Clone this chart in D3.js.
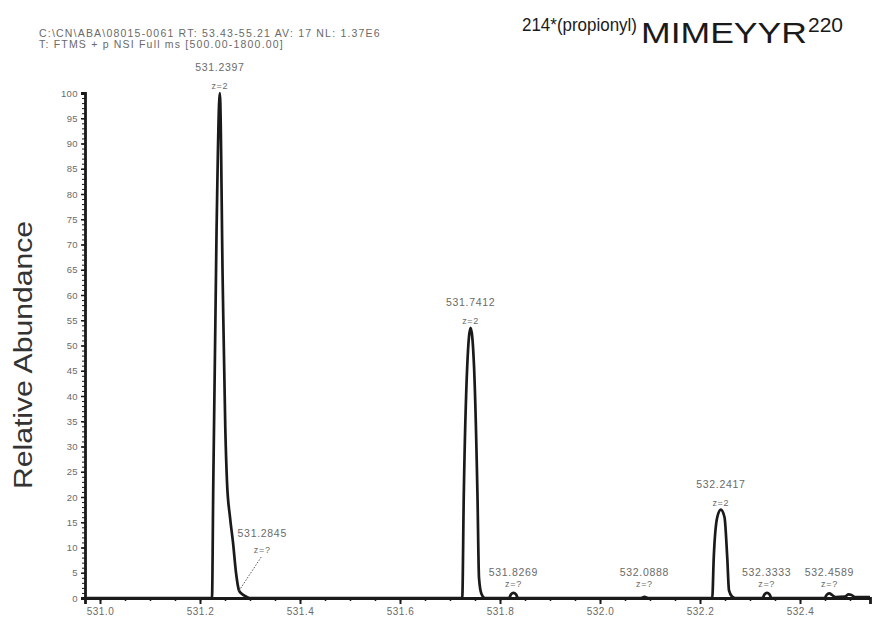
<!DOCTYPE html>
<html>
<head>
<meta charset="utf-8">
<script src="https://cdn.jsdelivr.net/npm/d3@7"></script>
<style>
  html, body { margin: 0; padding: 0; background: #fff; }
  svg { display: block; }
  text { font-family: "Liberation Sans", Arial, sans-serif; }
</style>
</head>
<body>
<svg id="chart" width="878" height="625"></svg>
<script>
// ---------- data ----------
const headerLines = [
  "C:\\CN\\ABA\\08015-0061   RT: 53.43-55.21   AV: 17   NL: 1.37E6",
  "T: FTMS + p NSI Full ms [500.00-1800.00]"
];
const titlePrefix = "214*(propionyl)";
const titleMain = "MIMEYYR";
const titleSup = "220";
const yAxisTitle = "Relative Abundance";

const xTicks = [531.0, 531.2, 531.4, 531.6, 531.8, 532.0, 532.2, 532.4];
const yTicks = [0, 5, 10, 15, 20, 25, 30, 35, 40, 45, 50, 55, 60, 65, 70, 75, 80, 85, 90, 95, 100];

// profile trace (m/z, relative abundance)
const profileMz = [
  530.970, 531.224, 531.2265, 531.233, 531.2397, 531.2455, 531.2505, 531.254, 531.260, 531.266,
  531.272, 531.278, 531.284, 531.292, 531.300,
  531.7245, 531.7275, 531.7345, 531.7412, 531.748, 531.755, 531.758, 531.763, 531.770,
  531.818, 531.822, 531.827, 531.832, 531.836,
  532.082, 532.089, 532.096,
  532.2245, 532.2275, 532.2345, 532.2417, 532.249, 532.2545, 532.258, 532.264, 532.270,
  532.325, 532.329, 532.334, 532.339, 532.343,
  532.449, 532.454, 532.459, 532.464, 532.470, 532.490, 532.497, 532.503, 532.510, 532.540
];
const profileInt = [
  0, 0, 22, 72, 100, 62, 34, 23, 16, 11,
  5, 1.5, 0.8, 0.3, 0,
  0, 20, 46, 53.5, 46, 20, 4, 0.8, 0,
  0, 0.7, 1.0, 0.7, 0,
  0, 0.25, 0,
  0, 8, 16, 17.5, 16, 8, 1.5, 0.3, 0,
  0, 0.7, 1.0, 0.7, 0,
  0, 0.7, 0.9, 0.6, 0.2, 0.3, 0.7, 0.6, 0.2, 0.2
];

// labelled centroids
const peakMz     = [531.2397, 531.2845, 531.7412, 531.8269, 532.0888, 532.2417, 532.3333, 532.4589];
const peakInt    = [100, 1.0, 53.5, 1.0, 0.25, 17.5, 1.0, 0.9];
const peakLabel  = ["531.2397", "531.2845", "531.7412", "531.8269", "532.0888", "532.2417", "532.3333", "532.4589"];
const peakCharge = ["z=2", "z=?", "z=2", "z=?", "z=?", "z=2", "z=?", "z=?"];

// ---------- drawing ----------
const svg = d3.select("#chart");
const W = 878, H = 625;
const margin = { left: 85, right: 8, top: 93, bottom: 27 };

const x = d3.scaleLinear().domain([530.97, 532.54]).range([margin.left, W - margin.right]);
const y = d3.scaleLinear().domain([0, 100]).range([H - margin.bottom, margin.top]);

const ink = "#1a1a1a";
const grey = "#6a6a6a";

// header
svg.selectAll("text.hdr").data(headerLines).join("text")
  .attr("class", "hdr")
  .attr("x", 39)
  .attr("y", (d, i) => 37 + i * 11)
  .attr("font-size", 10.5)
  .attr("letter-spacing", 1.2)
  .attr("fill", grey)
  .text(d => d);

// title
svg.append("text").attr("x", 522).attr("y", 31).attr("fill", ink)
  .attr("font-size", 19).attr("textLength", 115).attr("lengthAdjust", "spacingAndGlyphs")
  .text(titlePrefix);
svg.append("text").attr("x", 641).attr("y", 43).attr("fill", ink)
  .attr("font-size", 29).attr("textLength", 166).attr("lengthAdjust", "spacingAndGlyphs")
  .text(titleMain);
svg.append("text").attr("x", 808).attr("y", 32).attr("fill", ink)
  .attr("font-size", 20).attr("textLength", 35).attr("lengthAdjust", "spacingAndGlyphs")
  .text(titleSup);

// y title
svg.append("text")
  .attr("transform", `translate(32, 355) rotate(-90)`)
  .attr("text-anchor", "middle")
  .attr("font-size", 25)
  .attr("textLength", 268).attr("lengthAdjust", "spacingAndGlyphs")
  .attr("fill", "#333")
  .text(yAxisTitle);

// minor ticks
const yMinor = d3.range(0, 101, 1);
const xMinor = d3.range(531.0, 532.54, 0.05);

const yAxisMinor = d3.axisLeft(y).tickValues(yMinor).tickSize(3).tickFormat("");
svg.append("g").attr("transform", `translate(${margin.left},0)`).call(yAxisMinor)
  .call(g => g.select(".domain").remove())
  .call(g => g.selectAll("line").attr("stroke", ink).attr("stroke-width", 1));

const xAxisMinor = d3.axisBottom(x).tickValues(xMinor).tickSize(3).tickFormat("");
svg.append("g").attr("transform", `translate(0,${y(0)})`).call(xAxisMinor)
  .call(g => g.select(".domain").remove())
  .call(g => g.selectAll("line").attr("stroke", ink).attr("stroke-width", 1.5));

// major axes
const yAxis = d3.axisLeft(y).tickValues(yTicks).tickSize(4).tickPadding(3).tickFormat(d3.format("d"));
svg.append("g").attr("transform", `translate(${margin.left},0)`).call(yAxis)
  .call(g => g.select(".domain").attr("stroke", ink).attr("stroke-width", 2.8))
  .call(g => g.selectAll("line").attr("stroke", ink).attr("stroke-width", 1.5))
  .call(g => g.selectAll("text").attr("font-size", 9.5).attr("fill", grey).attr("letter-spacing", 0.4).attr("font-family", "Liberation Sans, Arial, sans-serif"));

const xAxis = d3.axisBottom(x).tickValues(xTicks).tickSize(6).tickPadding(4).tickFormat(d3.format(".1f"));
svg.append("g").attr("transform", `translate(0,${y(0)})`).call(xAxis)
  .call(g => g.select(".domain").attr("stroke", ink).attr("stroke-width", 2.8))
  .call(g => g.selectAll("line").attr("stroke", ink).attr("stroke-width", 2))
  .call(g => g.selectAll("text").attr("font-size", 10).attr("fill", grey).attr("letter-spacing", 0.5).attr("font-family", "Liberation Sans, Arial, sans-serif"));

// profile trace
const pts = profileMz.map((m, i) => [m, profileInt[i]]);
svg.append("path")
  .datum(pts)
  .attr("fill", "none")
  .attr("stroke", ink)
  .attr("stroke-width", 2.7)
  .attr("stroke-linejoin", "round")
  .attr("d", d3.line().x(d => x(d[0])).y(d => y(d[1])).curve(d3.curveMonotoneX));

// peak labels
const labels = peakMz.map((m, i) => ({ m, v: peakInt[i], lab: peakLabel[i], z: peakCharge[i], i }));
const lg = svg.append("g").attr("fill", grey).attr("font-size", 10.5).attr("letter-spacing", 0.7).attr("text-anchor", "middle");

labels.forEach(d => {
  let lx = x(d.m), ly1, ly2;
  if (d.lab === "531.2845") {
    // offset label with a dotted leader to the shoulder
    lx = x(d.m) + 20;
    ly1 = y(0) - 61;
    ly2 = y(0) - 45;
    svg.append("line")
      .attr("x1", lx - 1).attr("y1", ly2 + 4)
      .attr("x2", x(d.m) - 4).attr("y2", y(d.v) - 1)
      .attr("stroke", "#555").attr("stroke-width", 1).attr("stroke-dasharray", "1.5,1.5");
  } else if (d.v > 5) {
    ly1 = y(d.v) - 22;
    ly2 = y(d.v) - 4;
  } else {
    ly1 = y(0) - 22;
    ly2 = y(0) - 11;
  }
  lg.append("text").attr("x", lx).attr("y", ly1).text(d.lab);
  lg.append("text").attr("x", lx).attr("y", ly2).attr("font-size", 9).text(d.z);
});
</script>
</body>
</html>
